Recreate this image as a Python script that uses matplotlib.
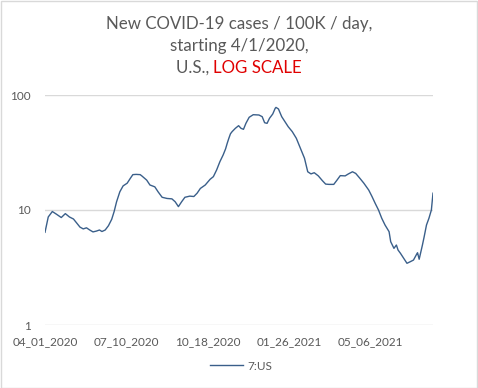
import matplotlib
matplotlib.use("Agg")
import matplotlib.pyplot as plt
from matplotlib.patches import Rectangle

# Data (days since 04/01/2020, cases per 100K per day)
days = [0, 4, 9, 14, 20, 25, 30, 35, 39, 43, 47, 51, 55, 59, 63, 67, 70, 74, 78, 82,
        85, 88, 92, 96, 101, 105, 108, 112, 117, 119, 125, 129, 135, 139, 144, 150,
        156, 160, 164, 168, 172, 178, 183, 187, 191, 197, 203, 207, 211, 215, 219,
        222, 224, 226, 228, 230, 234, 238, 241, 244, 247, 251, 256, 263, 267, 270,
        273, 276, 280, 283, 284, 287, 291, 295, 299, 304, 309, 314, 319, 323, 327,
        331, 336, 341, 345, 349, 355, 359, 363, 369, 373, 378, 382, 387, 392, 398,
        402, 406, 410, 414, 418, 423, 425, 429, 432, 434, 437, 441, 445, 449, 453,
        457, 458, 460, 464, 466, 469, 472, 475, 477]
values = [6.4, 8.7, 9.7, 9.2, 8.6, 9.3, 8.7, 8.35, 7.7, 7.1, 6.85, 7.0, 6.7, 6.45, 6.55,
          6.7, 6.5, 6.7, 7.3, 8.3, 9.7, 11.8, 14.4, 16.2, 17.1, 18.9, 20.3, 20.4, 20.3,
          19.8, 18.2, 16.5, 15.9, 14.4, 12.9, 12.6, 12.5, 11.8, 10.7, 11.8, 12.9, 13.2,
          13.1, 14.0, 15.4, 16.5, 18.5, 19.5, 22.3, 26.3, 30.1, 34.0, 38.0, 42.0, 46.0,
          48.0, 51.3, 54.1, 51.3, 50.3, 56.7, 64.0, 67.4, 67.0, 64.8, 57.4, 56.7, 62.7,
          68.4, 76.6, 78.0, 75.6, 64.8, 58.6, 53.0, 48.0, 42.0, 34.4, 28.2, 21.5, 20.6,
          21.1, 19.8, 18.0, 16.8, 16.7, 16.7, 18.2, 19.9, 19.8, 20.6, 21.5, 20.8, 18.9,
          17.1, 14.9, 13.1, 11.4, 10.0, 8.47, 7.41, 6.48, 5.3, 4.64, 4.96, 4.49, 4.2,
          3.8, 3.44, 3.55, 3.67, 4.14, 4.25, 3.73, 4.96, 5.79, 7.41, 8.47, 10.0, 14.0]
tick_days = [0, 100, 200, 300, 400]
tick_labels = ["04_01_2020", "07_10_2020", "10_18_2020", "01_26_2021", "05_06_2021"]
series_name = "7:US"

W, H = 478, 388
fig = plt.figure(figsize=(W / 100, H / 100), dpi=100)
fig.patch.set_facecolor("white")
plt.rcParams["font.family"] = ["Lato", "DejaVu Sans"]

gray = "#595959"
line_color = "#3A5F8A"

# Border around chart area
fig.add_artist(Rectangle((0.5 / W, 0.5 / H), 1 - 1.5 / W, 1 - 1.5 / H, transform=fig.transFigure,
                         fill=False, edgecolor="#d9d9d9", linewidth=1))

ax = fig.add_axes([45 / W, (H - 325) / H, 388 / W, 230 / H])
ax.plot(days, values, color=line_color, linewidth=1.0, label=series_name)
ax.set_yscale("log")
ax.set_ylim(1, 100)
ax.set_xlim(0, 477)
ax.set_yticks([1, 10, 100])
ax.set_yticklabels(["1", "10", "100"])
ax.minorticks_off()
ax.set_xticks(tick_days)
ax.set_xticklabels(tick_labels)
ax.tick_params(axis="both", length=0, colors=gray, labelsize=8.5)
ax.tick_params(axis="y", pad=10)
ax.tick_params(axis="x", pad=8)
ax.grid(axis="y", color="#d9d9d9", linewidth=1)
for s in ax.spines.values():
    s.set_visible(False)
ax.set_axisbelow(True)

leg = fig.legend(loc="center", bbox_to_anchor=(241 / W, 1 - 366 / H), frameon=False,
                 fontsize=8.5, handlelength=2.8, handletextpad=0.4, labelcolor=gray)

# Title (three lines, last line two colours)
tsize = 12.2
fig.text(0.5, 1 - 24 / H, "New COVID-19 cases / 100K / day,", ha="center", va="center",
         color=gray, fontsize=tsize)
fig.text(0.5, 1 - 46 / H, "starting 4/1/2020,", ha="center", va="center",
         color=gray, fontsize=tsize)
t1 = fig.text(0, 1 - 68 / H, "U.S., ", ha="left", va="center", color=gray, fontsize=tsize)
t2 = fig.text(0, 1 - 68 / H, "LOG SCALE", ha="left", va="center", color="#E00000", fontsize=tsize)
fig.canvas.draw()
r = fig.canvas.get_renderer()
w1 = t1.get_window_extent(r).width
w2 = t2.get_window_extent(r).width
x0 = (W - (w1 + w2)) / 2
t1.set_x(x0 / W)
t2.set_x((x0 + w1) / W)

fig.savefig("out.png", dpi=100, facecolor="white")
